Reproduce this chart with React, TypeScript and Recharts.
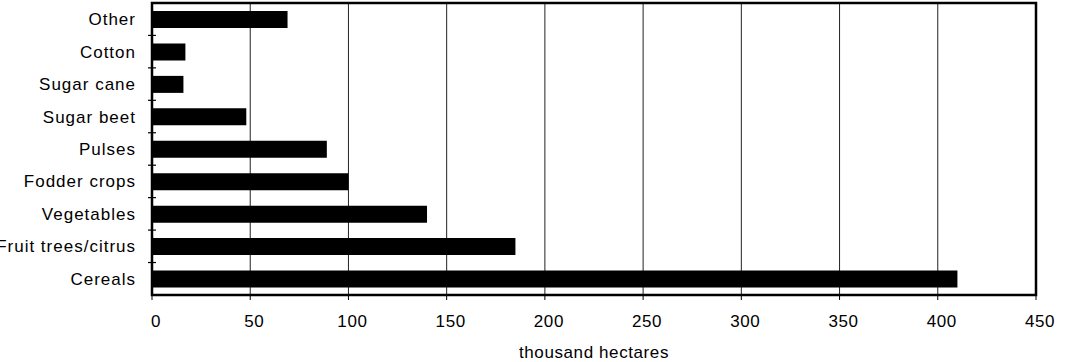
import { BarChart, Bar, XAxis, YAxis, CartesianGrid, ReferenceArea } from 'recharts';

const crops = ['Other', 'Cotton', 'Sugar cane', 'Sugar beet', 'Pulses', 'Fodder crops', 'Vegetables', 'Fruit trees/citrus', 'Cereals'];
const hectares = [69, 17, 16, 48, 89, 100, 140, 185, 410];
const xTicks = [0, 50, 100, 150, 200, 250, 300, 350, 400, 450];

const data = crops.map((name, i) => ({ name, value: hectares[i] }));

const FONT = '"Liberation Sans", Arial, Helvetica, sans-serif';

function CropTick(props: any) {
    const { x, y, payload } = props;
    const half = 16.2;
    const last = payload.value === crops[crops.length - 1];
    return (
        <g>
            <text x={x} y={y} dy={6} textAnchor="end" fontFamily={FONT} fontSize={17} letterSpacing={1} fill="#000">
                {payload.value}
            </text>
            {!last && (
                <line x1={x + 12} x2={x + 20} y1={y + half} y2={y + half} stroke="#000" strokeWidth={1.2} />
            )}
        </g>
    );
}

function ValueTick(props: any) {
    const { x, y, payload } = props;
    return (
        <text x={x} y={y} dx={4} dy={25} textAnchor="middle" fontFamily={FONT} fontSize={17} letterSpacing={0.6} fill="#000">
            {payload.value}
        </text>
    );
}

export default function App() {
    return (
        <div style={{ position: 'absolute', left: 0, top: 0, background: '#fff' }}>
            <BarChart
                width={1065}
                height={362}
                data={data}
                layout="vertical"
                margin={{ top: 3, right: 29, left: 0, bottom: 0 }}
            >
                <CartesianGrid horizontal={false} stroke="#222" strokeWidth={1} />
                <XAxis
                    type="number"
                    domain={[0, 450]}
                    ticks={xTicks}
                    height={67}
                    axisLine={false}
                    tickSize={5}
                    tickLine={{ stroke: '#000' }}
                    tick={<ValueTick />}
                    label={{ value: 'thousand hectares', position: 'insideBottom', offset: 4, fontFamily: FONT, fontSize: 17, letterSpacing: 0.6, fill: '#000' }}
                />
                <YAxis
                    type="category"
                    dataKey="name"
                    width={152}
                    axisLine={false}
                    tickLine={false}
                    tickSize={0}
                    tickMargin={16}
                    interval={0}
                    tick={<CropTick />}
                />
                <ReferenceArea x1={0} x2={450} fill="none" stroke="#000" strokeWidth={2.5} ifOverflow="visible" />
                <Bar dataKey="value" fill="#000" barSize={17} isAnimationActive={false} />
            </BarChart>
        </div>
    );
}
